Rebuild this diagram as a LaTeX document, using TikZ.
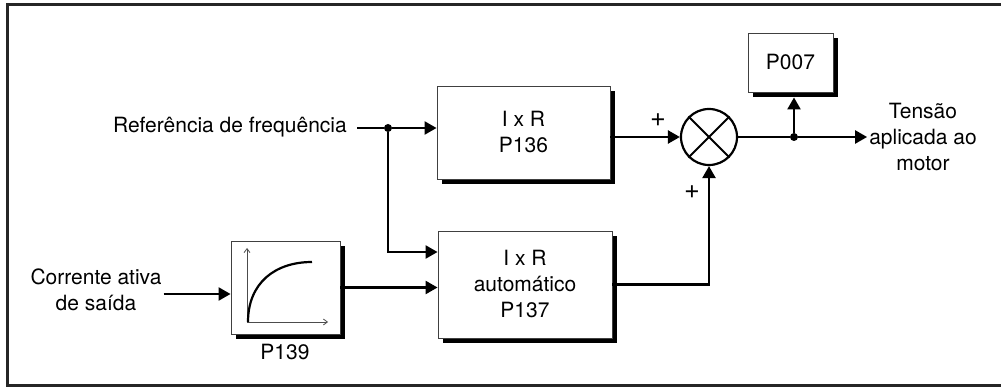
\documentclass[tikz,border=0pt]{standalone}
\usepackage{fontspec}
\setmainfont{TeX Gyre Heros}
\usetikzlibrary{positioning,shapes,calc,arrows.meta,shadows}

\begin{document}
\begin{tikzpicture}[x=1pt,y=-1pt,
    font=\fontsize{21}{26}\selectfont,
    block/.style={fill=white,draw=black!75,line width=0.9pt,align=center,
        drop shadow={shadow xshift=5pt,shadow yshift=-5pt,fill=black,opacity=1}},
    wire/.style={line width=2.4pt},
    feed/.style={wire,-{Triangle[length=12pt,width=13pt]}},
    dot/.style={circle,fill=black,inner sep=0pt,minimum size=8pt},
    sign/.style={font=\fontsize{27}{27}\selectfont,inner sep=0pt}]

        \useasboundingbox (0,0) rectangle (1001,387);
        \draw[line width=3pt,black!85] (7,5) rectangle (1012,385);

        \node[block,minimum width=173pt,minimum height=93pt] (p136) at (523.5,132.5) {I x R\\P136};
        \node[block,minimum width=174pt,minimum height=107pt] (p137) at (525,284.5) {I x R\\automático\\P137};
        \node[block,minimum width=109pt,minimum height=93pt] (p139) at (285.5,287.5) {};
        \node[block,minimum width=85pt,minimum height=59pt] (p007) at (790.5,62.5) {P007};
        \node[circle,draw,fill=white,line width=2.2pt,minimum size=56pt,inner sep=0pt] (sum) at (709,137) {};

        \node (p139lbl) at (285,352) {P139};
        \node[anchor=east,inner xsep=10pt] (reftxt) at (357,127) {Referência de frequência};
        \node[align=center,inner sep=2pt] (curtxt) at (96,290) {Corrente ativa\\de saída};
        \node[align=center,inner sep=2pt] (outtxt) at (923,137) {Tensão\\aplicada ao\\motor};
        \node[sign] (plus1) at (658,120) {+};
        \node[sign] (plus2) at (692,192) {+};

        \node[dot] (split) at (388,128) {};
        \node[dot] (outdot) at (794,137) {};
        \coordinate (p007in) at ([yshift=-5pt]p007.south);

        \draw[line width=1.8pt] (sum.north west) -- (sum.south east);
        \draw[line width=1.8pt] (sum.north east) -- (sum.south west);

        \draw[black!70,line width=0.8pt,-{Straight Barb[length=4pt,width=6pt]}] (247,322) -- (247,248);
        \draw[black!70,line width=0.8pt,-{Straight Barb[length=4pt,width=6pt]}] (247,322) -- (328,322);
        \draw[line width=2.2pt] (248,322) .. controls (248,283) and (275,262) .. (312,262);

        \draw[wire] (split -| reftxt.east) -- (split);
        \draw[feed] (split) -- (split -| p136.west);
        \draw[feed] (split) |- ([yshift=32.5pt]p137.west);
        \draw[feed] (curtxt.east |- 0,294) -- (p139.west |- 0,294);
        \draw[feed] (p139.east) -- (p139.east -| p137.west);
        \draw[feed] (sum.west -| p136.east) -- (sum.west);
        \draw[feed] (p137.east) -| (sum.south);
        \draw[wire] (sum.east) -- (outdot);
        \draw[feed] (outdot) -- (outtxt.west |- outdot);
        \draw[feed] (outdot) -- (outdot |- p007in);
    \end{tikzpicture}
\end{document}
